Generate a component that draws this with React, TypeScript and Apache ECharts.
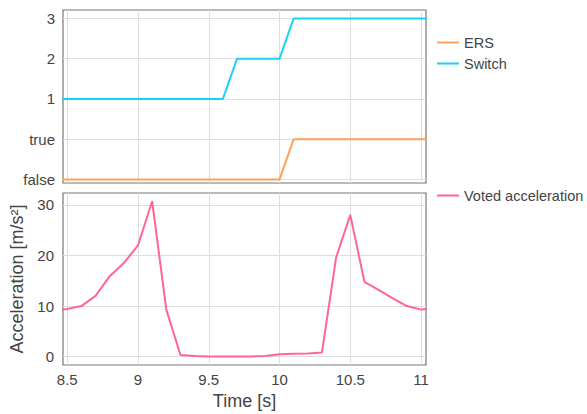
import React, { useEffect, useRef } from "react";
import * as echarts from "echarts";

const times = [8.4, 8.5, 8.6, 8.7, 8.8, 8.9, 9.0, 9.1, 9.2, 9.3, 9.4, 9.5, 9.6, 9.7, 9.8, 9.9, 10.0, 10.1, 10.2, 10.3, 10.4, 10.5, 10.6, 10.7, 10.8, 10.9, 11.0, 11.1];
const ersValues = [false, false, false, false, false, false, false, false, false, false, false, false, false, false, false, false, false, true, true, true, true, true, true, true, true, true, true, true];
const switchValues = [1, 1, 1, 1, 1, 1, 1, 1, 1, 1, 1, 1, 1, 2, 2, 2, 2, 3, 3, 3, 3, 3, 3, 3, 3, 3, 3, 3];
const accelValues = [9.2, 9.4, 10.0, 12.0, 15.9, 18.5, 22.0, 30.7, 9.3, 0.35, 0.15, 0.05, 0.05, 0.05, 0.05, 0.15, 0.5, 0.6, 0.65, 0.85, 19.6, 28.0, 14.8, 13.2, 11.5, 10.0, 9.3, 9.6];
const topTickLabels = ["false", "true", "1", "2", "3"];
const xTicks = [8.5, 9, 9.5, 10, 10.5, 11];
const accelTicks = [0, 10, 20, 30];

const FONT = "'Liberation Sans', Arial, sans-serif";
const TXT = "#444";
const GRID = "#dedede";
const BORDER = "#777";

export default function App() {
  const ref = useRef<HTMLDivElement>(null);
  useEffect(() => {
    if (!ref.current) return;
    const chart = echarts.init(ref.current, null, { renderer: "svg" });
    const xBase = {
      type: "value",
      min: 8.47,
      max: 11.035,
      axisLine: { show: false },
      axisTick: { show: false, customValues: xTicks },
      splitLine: { show: true, lineStyle: { color: GRID, width: 1 } },
    };
    const legendText = { color: TXT, fontSize: 14.5, fontFamily: FONT };
    chart.setOption({
      animation: false,
      textStyle: { fontFamily: FONT },
      grid: [
        { left: 63, top: 10, width: 363, height: 173, show: true, borderColor: BORDER, borderWidth: 1.2 },
        { left: 63, top: 193, width: 363, height: 172, show: true, borderColor: BORDER, borderWidth: 1.2 },
      ],
      xAxis: [
        { ...xBase, gridIndex: 0, axisLabel: { show: false, customValues: xTicks } },
        {
          ...xBase,
          gridIndex: 1,
          axisLabel: { show: true, customValues: xTicks, color: TXT, fontSize: 15, fontFamily: FONT, margin: 7 },
          name: "Time [s]",
          nameLocation: "middle",
          nameGap: 27,
          nameTextStyle: { color: TXT, fontSize: 18, fontFamily: FONT },
        },
      ],
      yAxis: [
        {
          type: "value",
          gridIndex: 0,
          min: -0.09,
          max: 4.21,
          axisLine: { show: false },
          axisTick: { show: false, customValues: [0, 1, 2, 3, 4] },
          axisLabel: {
            customValues: [0, 1, 2, 3, 4],
            color: TXT,
            fontSize: 15,
            fontFamily: FONT,
            margin: 8,
            formatter: (v: number) => topTickLabels[Math.round(v)] ?? "",
          },
          splitLine: { show: true, lineStyle: { color: GRID, width: 1 } },
        },
        {
          type: "value",
          gridIndex: 1,
          min: -1.64,
          max: 32.33,
          axisLine: { show: false },
          axisTick: { show: false, customValues: accelTicks },
          axisLabel: { customValues: accelTicks, color: TXT, fontSize: 15, fontFamily: FONT, margin: 9 },
          splitLine: { show: true, lineStyle: { color: GRID, width: 1 } },
          name: "Acceleration [m/s²]",
          nameLocation: "middle",
          nameGap: 37,
          nameTextStyle: { color: TXT, fontSize: 18, fontFamily: FONT },
        },
      ],
      legend: [
        {
          data: ["ERS", "Switch"],
          orient: "vertical",
          left: 437,
          top: 35,
          padding: 0,
          itemGap: 6,
          itemWidth: 22,
          itemHeight: 2,
          icon: "rect",
          textStyle: legendText,
        },
        {
          data: ["Voted acceleration"],
          orient: "vertical",
          left: 437,
          top: 188,
          padding: 0,
          itemWidth: 22,
          itemHeight: 2,
          icon: "rect",
          textStyle: legendText,
        },
      ],
      series: [
        {
          name: "ERS",
          type: "line",
          xAxisIndex: 0,
          yAxisIndex: 0,
          data: times.map((t, i) => [t, ersValues[i] ? 1 : 0]),
          showSymbol: false,
          symbol: "none",
          lineStyle: { color: "#FFA15A", width: 2 },
          itemStyle: { color: "#FFA15A" },
        },
        {
          name: "Switch",
          type: "line",
          xAxisIndex: 0,
          yAxisIndex: 0,
          data: times.map((t, i) => [t, switchValues[i] + 1]),
          showSymbol: false,
          symbol: "none",
          lineStyle: { color: "#19D3F3", width: 2 },
          itemStyle: { color: "#19D3F3" },
        },
        {
          name: "Voted acceleration",
          type: "line",
          xAxisIndex: 1,
          yAxisIndex: 1,
          data: times.map((t, i) => [t, accelValues[i]]),
          showSymbol: false,
          symbol: "none",
          lineStyle: { color: "#FF6692", width: 2 },
          itemStyle: { color: "#FF6692" },
        },
      ],
    });
    return () => chart.dispose();
  }, []);
  return <div ref={ref} style={{ position: "absolute", left: 0, top: 0, width: 587, height: 414 }} />;
}
